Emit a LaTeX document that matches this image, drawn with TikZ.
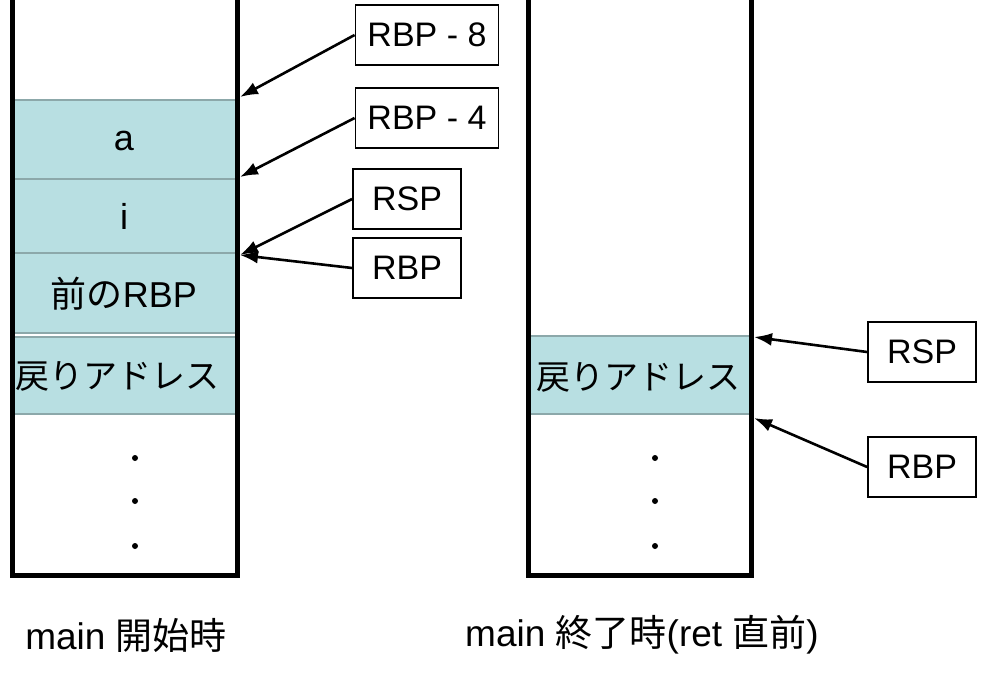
\documentclass[tikz,border=0pt]{standalone}
\usepackage{fontspec}
\setmainfont{Liberation Sans}
\newfontfamily\jp{Noto Sans CJK JP}
\usetikzlibrary{arrows.meta}
\definecolor{cellfill}{RGB}{184,223,226}
\definecolor{cellline}{RGB}{140,168,170}
\tikzset{
  wall/.style={line width=5.5pt, line join=miter},
  sep/.style={draw=cellline, line width=2pt},
  regbox/.style={draw, line width=1.8pt, minimum height=60pt, inner sep=0pt, fill=white},
  ptr/.style={line width=2.6pt, -{Latex[length=18pt,width=13pt]}},
  dot/.style={fill=black},
  caption/.style={font=\fontsize{37}{44}\selectfont}
}
\begin{document}
\begin{tikzpicture}[x=1pt,y=-1pt,font=\fontsize{34}{40}\selectfont]
\useasboundingbox (0,0) rectangle (985,679);
% left stack cells
\fill[cellfill] (12.5,100) rectangle (237.5,333);
\fill[cellfill] (12.5,337) rectangle (237.5,414);
\foreach \yy in {100,179,253,333,337,414} \draw[sep] (12.5,\yy) -- (237.5,\yy);
\node[font=\fontsize{36}{42}\selectfont] (ca) at (124,141) {a};
\node[font=\fontsize{36}{42}\selectfont] (ci) at (124,216) {i};
\node[font=\fontsize{36}{42}\selectfont] (cr) at (124,294) {{\jp 前の}RBP};
\node (cret) at (118,376) {\jp 戻りアドレス};
\draw[wall] (12.5,0) -- (12.5,575.5) -- (237.5,575.5) -- (237.5,0);
\foreach \yy in {458,501,546} \fill[dot] (135,\yy) circle (3);
% right stack
\fill[cellfill] (528.5,336) rectangle (751.5,414);
\foreach \yy in {336,414} \draw[sep] (528.5,\yy) -- (751.5,\yy);
\node (rret) at (638,377) {\jp 戻りアドレス};
\draw[wall] (528.5,0) -- (528.5,575.5) -- (751.5,575.5) -- (751.5,0);
\foreach \yy in {458,501,546} \fill[dot] (655,\yy) circle (3);
% register boxes
\node[regbox, minimum width=143pt] (r8) at (427,35) {RBP - 8};
\node[regbox, minimum width=143pt] (r4) at (427,118) {RBP - 4};
\node[regbox, minimum width=108pt] (rsp) at (407,199) {RSP};
\node[regbox, minimum width=108pt] (rbp) at (407,268) {RBP};
\node[regbox, minimum width=108pt] (rsp2) at (922,352) {RSP};
\node[regbox, minimum width=108pt] (rbp2) at (922,467) {RBP};
\coordinate (t8) at (240,97);
\coordinate (t4) at (240,177);
\coordinate (tb) at (240,255);
\coordinate (t2s) at (754,337);
\coordinate (t2b) at (754,418);
\draw[ptr] (r8.west) -- (t8);
\draw[ptr] (r4.west) -- (t4);
\draw[ptr] (rsp.west) -- (tb);
\draw[ptr] (rbp.west) -- (tb);
\draw[ptr] (rsp2.west) -- (t2s);
\draw[ptr] (rbp2.west) -- (t2b);
% captions
\node[caption] (l1) at (126,635) {main {\jp 開始時}};
\node[caption] (l2) at (642,635) {main {\jp 終了時}(ret {\jp 直前})};
\end{tikzpicture}
\end{document}
